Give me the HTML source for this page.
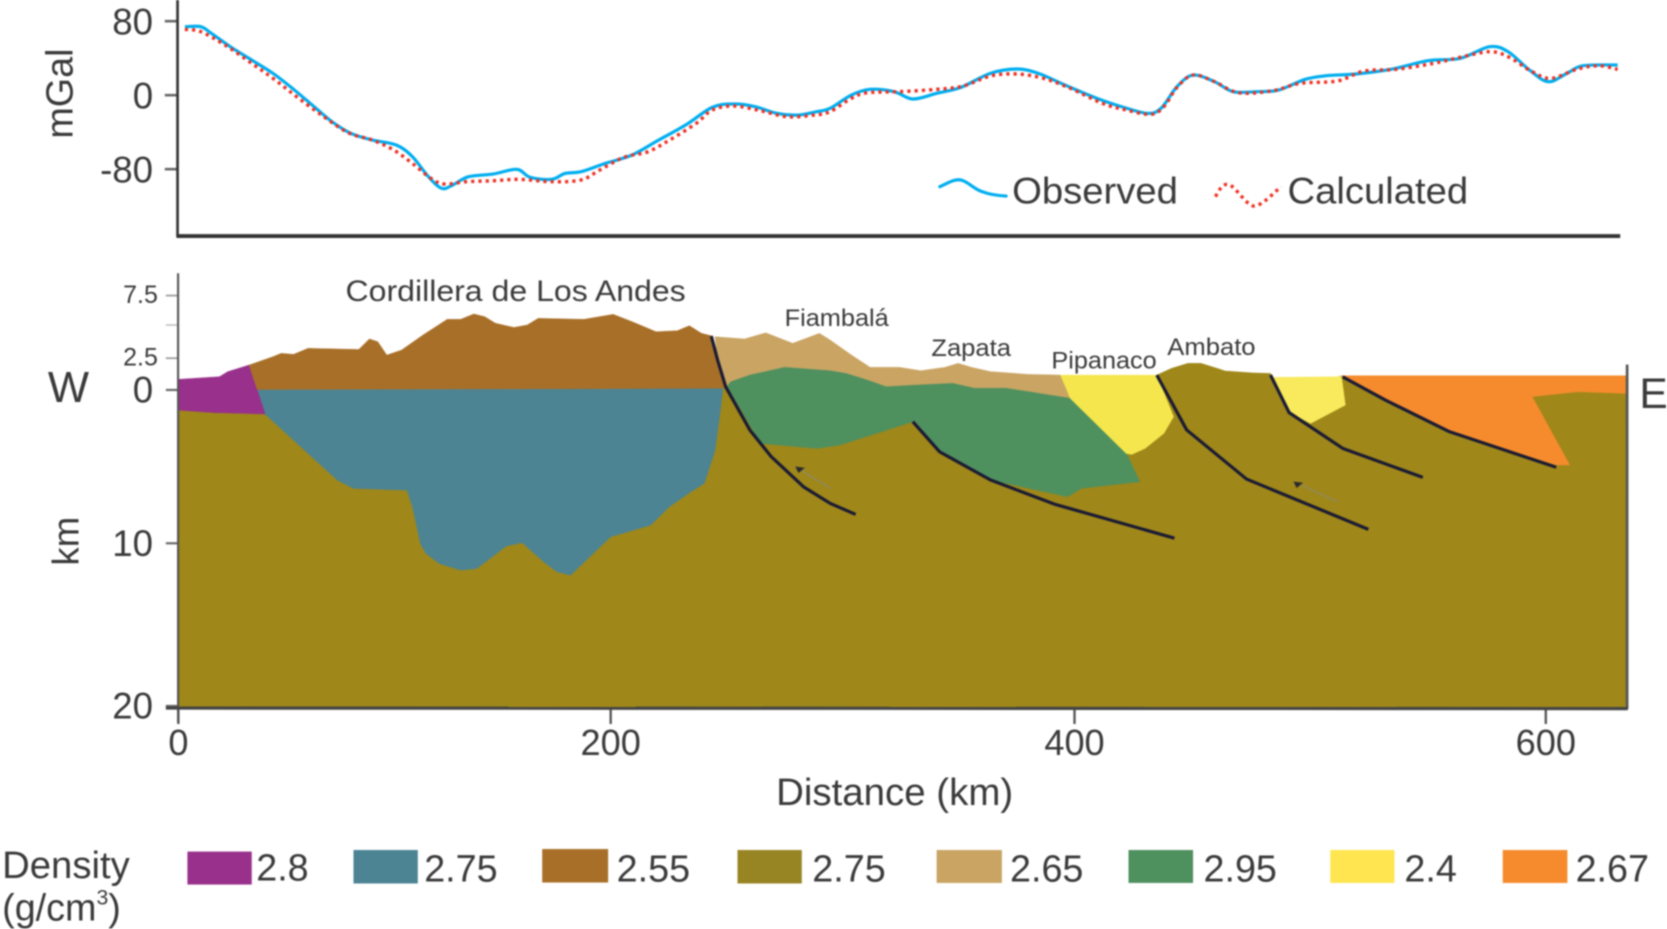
<!DOCTYPE html>
<html lang="en">
<head>
<meta charset="utf-8">
<title>Gravity profile and density cross-section</title>
<style>
html,body{margin:0;padding:0;background:#fff;width:1667px;height:929px;overflow:hidden}
svg{display:block;filter:blur(0.8px)}
text{font-family:"Liberation Sans",Arial,sans-serif;fill:#3a3a3a}
</style>
</head>
<body>
<svg id="chart" xmlns="http://www.w3.org/2000/svg" width="1667" height="929" viewBox="0 0 1568 873.8">
  <g id="geology"></g>
  <g id="faults"></g>
  <g id="arrows"></g>
  <g id="gravity"></g>
  <g id="axes"></g>

  <line x1="167" y1="0" x2="167" y2="223" stroke="#333" stroke-width="2.5"/>
  <line x1="166" y1="222" x2="1524" y2="222" stroke="#333" stroke-width="3.6"/>
  <line x1="167.5" y1="257" x2="167.5" y2="680" stroke="#555" stroke-width="2"/>
  <line x1="1530.5" y1="343" x2="1530.5" y2="667" stroke="#555" stroke-width="2.5"/>
  <line x1="156" y1="666" x2="1531" y2="666.5" stroke="#444" stroke-width="3"/>

  <text transform="translate(68,88) rotate(-90)" text-anchor="middle" font-size="35.5">mGal</text>
  <text transform="translate(74,509) rotate(-90)" text-anchor="middle" font-size="34.5">km</text>
  <text x="730" y="757" font-size="36" textLength="223" lengthAdjust="spacingAndGlyphs">Distance (km)</text>
  <text x="45" y="378" font-size="41">W</text>
  <text x="1542" y="384" font-size="40">E</text>

  <text x="325" y="283" font-size="28" textLength="320" lengthAdjust="spacingAndGlyphs">Cordillera de Los Andes</text>
  <text x="738" y="306.5" font-size="23" textLength="98" lengthAdjust="spacingAndGlyphs">Fiambalá</text>
  <text x="876" y="335" font-size="23" textLength="75" lengthAdjust="spacingAndGlyphs">Zapata</text>
  <text x="989" y="346.5" font-size="23" textLength="99" lengthAdjust="spacingAndGlyphs">Pipanaco</text>
  <text x="1098" y="334" font-size="23" textLength="83" lengthAdjust="spacingAndGlyphs">Ambato</text>

  <g>
    <path d="M884 175.6C892 172 898 168 904 169.3C911 171 916 178 924 180.3C931 183 938 184 946.4 184.4" fill="none" stroke="#00aeef" stroke-width="3" stroke-linecap="round"/>
    <text x="952" y="191.5" font-size="35" textLength="156" lengthAdjust="spacingAndGlyphs">Observed</text>
    <path d="M1143.3 185C1147 178 1150 173 1154.9 173.4C1162 174 1172 194 1180 193.8C1188 193 1198 181 1205.1 175.6" fill="none" stroke="#ee3124" stroke-width="3.2" stroke-dasharray="3 3.8"/>
    <text x="1211" y="191.5" font-size="35" textLength="170" lengthAdjust="spacingAndGlyphs">Calculated</text>
  </g>

  <g>
    <text x="2" y="826" font-size="36">Density</text>
    <text x="2" y="866" font-size="35.5">(g/cm<tspan font-size="20" dy="-15">3</tspan><tspan dy="15">)</tspan></text>

    <rect x="176.3" y="801" width="60.5" height="31" fill="#98308c"/>
    <text x="241" y="828" font-size="35.5">2.8</text>
    <rect x="332.5" y="799.5" width="60.5" height="31.5" fill="#4c8494"/>
    <text x="399" y="829" font-size="35.5">2.75</text>
    <rect x="510" y="798.6" width="62" height="31.5" fill="#a86f28"/>
    <text x="580" y="829" font-size="35.5">2.55</text>
    <rect x="693.7" y="799.5" width="60.5" height="31.5" fill="#978524"/>
    <text x="764" y="829" font-size="35.5">2.75</text>
    <rect x="881" y="799.5" width="61.4" height="31" fill="#c9a463"/>
    <text x="950" y="829" font-size="35.5">2.65</text>
    <rect x="1061.5" y="799.5" width="60.7" height="31" fill="#4f905f"/>
    <text x="1132" y="829" font-size="35.5">2.95</text>
    <rect x="1251.3" y="799.5" width="60.3" height="31" fill="#ffe550"/>
    <text x="1321" y="829" font-size="35.5">2.4</text>
    <rect x="1413.5" y="799.5" width="60.8" height="31" fill="#f58b2c"/>
    <text x="1482" y="829" font-size="35.5">2.67</text>
  </g>
</svg>

<script>
// Distance ticks (km), gravity ticks (mGal), section ticks (km; negative = elevation)
const distanceTicks = [0, 200, 400, 600];
const gravityTicks = [80, 0, -80];
const elevationLabelled = [-7.5, -2.5];
const elevationMinor = [-5];
const depthTicks = [0, 10, 20];

// Gravity profile
const observedKm = [3,10.4,15.3,24,33.9,43.8,53.7,63.7,71.1,79.8,89.7,100.8,108.3,115.7,121.9,126.9,134.3,145.5,156.6,162.8,172.7,178.9,186.3,197.5,209.2,220.7,232.3,243.8,253.1,262.3,271.6,280.8,288.9,294.6,303.8,311.9,322.2,330.3,340.6,351,363.7,375.2,384.4,395.9,409.5,420.9,431,436.7,443.5,450.3,459.4,467.3,477.5,486.6,497.9,507,519.4,534.2,550,563.7,576.1,584,593.1,601,609,615.8,630.5];
const observedMgal = [74,74,66.8,52.4,38,23.6,5.5,-14.3,-28.7,-41.3,-48.5,-53.9,-66.6,-88.2,-100.8,-97.1,-88.2,-85.3,-80.2,-88.9,-91,-84.6,-82.8,-73.8,-64.7,-48.5,-32.3,-13.2,-9.5,-12.4,-19.7,-21.5,-17.8,-14.3,0.1,6.3,3.8,-4.1,2,8.4,23.6,28.3,23.6,10.9,-3.4,-13.2,-19.7,-14.3,9.2,21.7,14.6,3.8,3.8,5.5,17.1,21,22.9,27.9,37.2,39.8,52.4,47,27.1,14.6,23.6,31.8,32.6];
const calculatedKm = [3,10.4,21.5,33.9,43.8,53.7,66.2,78.6,89.7,99.6,108.3,116.9,123.1,133.1,145.5,157.9,172.7,186.3,195,205.7,216.1,225.4,236.9,243.8,253.1,264.6,276.2,287.7,294.6,303.8,310.7,324.5,340.6,352.1,363.7,375.2,386.6,398.2,411.8,420.9,432.2,437.9,443.5,450.3,459.4,469.6,484.3,495.7,511.5,522.9,536.4,552.3,563.7,576.1,584,594.2,602.2,613.5,622.6,630.5];
const calculatedMgal = [71.1,68.6,54.3,34.4,18.2,0.1,-21.5,-40.6,-48.5,-59.3,-73.8,-90,-96.1,-93.6,-92.5,-91,-93.6,-91.7,-80.9,-67.2,-61.1,-48.5,-30.5,-16.1,-11.7,-16.8,-23.3,-21.5,-17.8,-3.4,2.6,3.8,6.3,9.9,20.7,22.9,18.2,7.4,-8.9,-15.4,-20.8,-12.4,8.4,21.7,14.6,2.6,4.8,12.8,15.3,26.1,27.9,34.4,40.9,47,41.6,25.4,18.2,28.3,31.8,27.9];

// Geological units as [distance km, depth km] vertices
const unitBasement = [[0,1.31],[40.1,1.57],[42.9,0.22],[246.6,-0.1],[250.2,-0.25],[395.1,0.22],[413.2,0.22],[434.9,-1.17],[441.2,-1.7],[448.1,-2.09],[453.7,-2.09],[460.5,-1.7],[463.9,-1.49],[475.3,-1.35],[483.2,-1.3],[486.8,0.08],[513.4,-1.1],[633.9,-1.1],[634.3,20.1],[0,20.1]];
const unitPurple = [[0,-0.83],[19,-1.04],[22.8,-1.44],[32.7,-1.96],[40.1,1.57],[16.6,1.48],[0,1.31]];
const unitTeal = [[36.5,-0.04],[248.4,-0.13],[247.3,1.31],[245,3.92],[240.4,6.09],[234.6,6.63],[225.3,7.61],[217.3,8.81],[200,9.57],[181.4,11.96],[175.2,11.75],[169,11.14],[159.1,9.96],[151.7,10.17],[138,11.55],[130.6,11.65],[120.7,11.24],[114.5,10.62],[112,10.01],[108.3,7.61],[105.8,6.53],[81,6.42],[73.6,5.88],[40.1,1.57]];
const unitBrown = [[32.7,-1.96],[43.8,-2.61],[47.6,-2.86],[53.3,-2.79],[60,-3.24],[83.5,-3.16],[88.4,-3.94],[92.2,-3.74],[96.4,-2.73],[103.3,-3.11],[113.2,-4.24],[124.4,-5.48],[130.6,-5.48],[136.7,-5.93],[141.7,-5.7],[146.7,-5.14],[155.3,-4.81],[161.5,-5],[166.5,-5.56],[187.6,-5.48],[201.1,-5.9],[209.2,-5.28],[219.6,-4.49],[228.8,-4.57],[233.9,-4.94],[239.2,-4.37],[243.8,-4.17],[249.6,-0.25],[248.4,-0.13],[36.5,-0.04]];
const unitTan = [[245,-4.12],[257.7,-3.94],[266.9,-4.41],[278.5,-3.61],[290,-4.37],[294.6,-3.86],[303.8,-2.73],[311.9,-1.77],[324.5,-1.77],[333.7,-1.51],[344.1,-1.77],[349.8,-2.09],[355.6,-1.77],[363.7,-1.44],[379.7,-1.23],[394,-1.17],[398.2,0.55],[257.6,0.91],[249.6,-0.25],[246.1,-2.35]];
const unitGreen = [[250.3,-0.31],[251.9,-0.65],[260,-1.17],[275,-1.77],[294.6,-1.51],[301.5,-1.3],[310.7,-0.78],[318.7,-0.25],[331.4,-0.38],[347.5,-0.52],[356.7,-0.13],[370.5,-0.13],[398.2,0.55],[422,4.14],[427.7,5.98],[402.8,6.42],[397,6.96],[363.7,5.87],[341.8,4.03],[330.3,2.07],[298.8,3.59],[288.9,3.81],[264.6,3.48]];
const unitYellowWest = [[394,-1.17],[434.9,-1.17],[442,1.75],[437.9,2.83],[429.9,3.81],[424.3,4.2],[422,4.14],[398.2,0.55]];
const unitYellowEast = [[484.3,-0.99],[513.3,-1.04],[514.9,0.98],[500.2,2.18],[491.5,1.48],[487.7,0.33],[483.2,-1.17]];
const unitOrange = [[513.3,-1.12],[633.9,-1.12],[633.9,0.22],[613.5,0.11],[594.2,0.44],[610.1,4.89],[604.4,4.89],[559.1,2.72],[531.9,0.66],[513.8,-1.04]];

// Faults and slip arrows
const faultA = [[243.4,-4.17],[246.1,-2.35],[249.6,-0.25],[260,2.61],[269.2,4.35],[283.1,6.31],[294.6,7.39],[305.6,8.12]];
const faultB = [[330.3,2.07],[341.8,4.03],[363.7,5.87],[391.2,7.44],[442.4,9.67]];
const faultC = [[434.9,-1.17],[447.6,2.61],[473,5.81],[524.7,9.09]];
const faultD = [[483.2,-1.17],[491.1,1.48],[513.8,3.81],[547.8,5.7]];
const faultE = [[513.8,-1.04],[531.9,0.66],[559.1,2.72],[604.4,5.04]];
const arrowA = [[294.7,6.42],[279.6,5]];
const arrowB = [[511.5,7.28],[492.9,5.98]];

// Axis functions: the source figure's axes are slightly non-uniform
function xScale(km) {
  if (km <= 200) return 167.8 + km * 2.033;
  if (km <= 400) return 574.4 + (km - 200) * 2.1815;
  return 1010.7 + (km - 400) * 2.2165;
}
function gravityScale(mgal) {
  return 89.5 - mgal * 0.87;
}
function depthScale(z) {
  if (z <= -5) return 305.7 + (z + 5) * 11.08;
  if (z <= -2.5) return 336.9 + (z + 2.5) * 12.48;
  if (z <= 0) return 366.8 + z * 11.96;
  if (z <= 10) return 366.8 + z * 14.42;
  return 511 + (z - 10) * 15.3;
}

const SVGNS = 'http://www.w3.org/2000/svg';
const geology = document.getElementById('geology');
const faults = document.getElementById('faults');
const arrows = document.getElementById('arrows');
const gravity = document.getElementById('gravity');
const axes = document.getElementById('axes');

function sectionPoints(list) {
  return list.map(function (p) {
    return xScale(p[0]).toFixed(1) + ',' + depthScale(p[1]).toFixed(1);
  }).join(' ');
}
// Smooth Catmull-Rom path through the data points
function gravityPath(kms, vals) {
  const pts = kms.map(function (k, i) {
    return [xScale(k), gravityScale(vals[i])];
  });
  let d = 'M' + pts[0][0].toFixed(1) + ' ' + pts[0][1].toFixed(1);
  for (let i = 0; i < pts.length - 1; i++) {
    const p0 = pts[Math.max(i - 1, 0)];
    const p1 = pts[i];
    const p2 = pts[i + 1];
    const p3 = pts[Math.min(i + 2, pts.length - 1)];
    const c1x = p1[0] + (p2[0] - p0[0]) / 6;
    const c1y = p1[1] + (p2[1] - p0[1]) / 6;
    const c2x = p2[0] - (p3[0] - p1[0]) / 6;
    const c2y = p2[1] - (p3[1] - p1[1]) / 6;
    d += 'C' + c1x.toFixed(1) + ' ' + c1y.toFixed(1) + ' ' + c2x.toFixed(1) + ' ' + c2y.toFixed(1) + ' ' + p2[0].toFixed(1) + ' ' + p2[1].toFixed(1);
  }
  return d;
}
function addUnit(list, color, name) {
  const el = document.createElementNS(SVGNS, 'polygon');
  
  
  el.setAttribute('points', sectionPoints(list));
  el.setAttribute('fill', color);
  el.setAttribute('stroke', color);
  el.setAttribute('stroke-width', '0.5');
  geology.appendChild(el);
}
function addFault(list, name) {
  const el = document.createElementNS(SVGNS, 'polyline');
  
  
  el.setAttribute('points', sectionPoints(list));
  el.setAttribute('fill', 'none');
  el.setAttribute('stroke', '#1b1b33');
  el.setAttribute('stroke-width', '3');
  el.setAttribute('stroke-linejoin', 'round');
  faults.appendChild(el);
}
function addArrow(list, name) {
  const x1 = xScale(list[0][0]), y1 = depthScale(list[0][1]);
  const x2 = xScale(list[1][0]), y2 = depthScale(list[1][1]);
  const shaft = document.createElementNS(SVGNS, 'line');
  
  
  shaft.setAttribute('x1', x1);
  shaft.setAttribute('y1', y1);
  shaft.setAttribute('x2', x2);
  shaft.setAttribute('y2', y2);
  shaft.setAttribute('stroke', '#8f8a60');
  shaft.setAttribute('stroke-width', '1.3');
  arrows.appendChild(shaft);
  const head = document.createElementNS(SVGNS, 'polygon');
  
  
  head.setAttribute('points', x2 + ',' + y2 + ' ' + (x2 + 9) + ',' + (y2 + 1) + ' ' + (x2 + 3) + ',' + (y2 + 6));
  head.setAttribute('fill', '#2a2a2a');
  arrows.appendChild(head);
}
function addLine(kms, vals, color, name, dash, width) {
  const el = document.createElementNS(SVGNS, 'path');
  
  
  el.setAttribute('d', gravityPath(kms, vals));
  el.setAttribute('fill', 'none');
  el.setAttribute('stroke', color);
  el.setAttribute('stroke-width', width);
  el.setAttribute('stroke-linejoin', 'round');
  if (dash) el.setAttribute('stroke-dasharray', dash);
  gravity.appendChild(el);
}
function addTick(x1, y1, x2, y2, color, width, name) {
  const el = document.createElementNS(SVGNS, 'line');
  
  
  el.setAttribute('x1', x1);
  el.setAttribute('y1', y1);
  el.setAttribute('x2', x2);
  el.setAttribute('y2', y2);
  el.setAttribute('stroke', color);
  el.setAttribute('stroke-width', width);
  axes.appendChild(el);
}
function addLabel(x, y, str, size, anchor, name) {
  const el = document.createElementNS(SVGNS, 'text');
  
  
  el.setAttribute('x', x);
  el.setAttribute('y', y);
  el.setAttribute('font-size', size);
  el.setAttribute('text-anchor', anchor);
  el.textContent = str;
  axes.appendChild(el);
}

addUnit(unitBasement, '#9f8719', 'unit-basement-2-75');
addUnit(unitTeal, '#4c8494', 'unit-teal-2-75');
addUnit(unitPurple, '#98308c', 'unit-purple-2-8');
addUnit(unitBrown, '#a86f28', 'unit-brown-2-55');
addUnit(unitTan, '#c9a463', 'unit-tan-2-65');
addUnit(unitGreen, '#4f905f', 'unit-green-2-95');
addUnit(unitYellowWest, '#f4e64c', 'unit-yellow-west-2-4');
addUnit(unitYellowEast, '#f8ea5c', 'unit-yellow-east-2-4');
addUnit(unitOrange, '#f58b2c', 'unit-orange-2-67');

addFault(faultA, 'fault-a');
addFault(faultB, 'fault-b');
addFault(faultC, 'fault-c');
addFault(faultD, 'fault-d');
addFault(faultE, 'fault-e');
addArrow(arrowA, 'slip-arrow-a');
addArrow(arrowB, 'slip-arrow-b');

addLine(observedKm, observedMgal, '#00aeef', 'observed-line', null, '3');
addLine(calculatedKm, calculatedMgal, '#ee3124', 'calculated-line', '3 3.8', '3.2');

gravityTicks.forEach(function (v) {
  const y = gravityScale(v);
  addTick(155, y, 167, y, '#666', 2.4, 'gravity-tick');
  addLabel(144, y + 12.5, String(v), 34.5, 'end', 'gravity-tick-label');
});
distanceTicks.forEach(function (v) {
  const x = xScale(v);
  addTick(x, 666, x, 681, '#555', 2.2, 'distance-tick');
  addLabel(x, 710, String(v), 34, 'middle', 'distance-tick-label');
});
elevationLabelled.forEach(function (v) {
  const y = depthScale(v);
  addTick(156, y, 167, y, '#999', 1.6, 'elevation-tick');
  addLabel(148.5, y + 7, String(Math.abs(v)), 23.5, 'end', 'elevation-tick-label');
});
elevationMinor.forEach(function (v) {
  const y = depthScale(v);
  addTick(156, y, 167, y, '#bbb', 1.4, 'elevation-minor-tick');
});
depthTicks.forEach(function (v) {
  const y = depthScale(v);
  addTick(156, y, 167, y, '#666', 2, 'depth-tick');
  addLabel(144, y + 12, String(v), 34.5, 'end', 'depth-tick-label');
});
</script>
</body>
</html>
